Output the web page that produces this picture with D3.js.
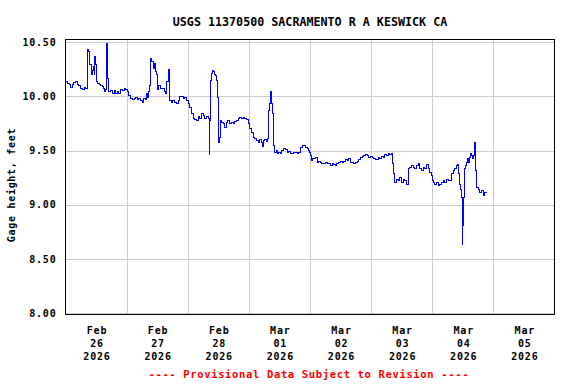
<!DOCTYPE html>
<html><head><meta charset="utf-8">
<script src="https://cdn.jsdelivr.net/npm/d3@7"></script>
<style>
html,body{margin:0;padding:0;background:#fff;}
svg{display:block;}
text{font-family:"DejaVu Sans Mono","Liberation Mono",monospace;font-weight:bold;}
</style></head><body>
<svg id="chart" width="576" height="384"></svg>
<script>
// ---- chart text ----
const title = "USGS 11370500 SACRAMENTO R A KESWICK CA";
const yLabel = "Gage height, feet";
const footer = "---- Provisional Data Subject to Revision ----";

// ---- axes ----
const startDate = "2026-02-26T00:00:00Z";
const endDate = "2026-03-06T00:00:00Z";
const yTicks = [8.00, 8.50, 9.00, 9.50, 10.00, 10.50];
const xTickMonths = ["Feb", "Feb", "Feb", "Mar", "Mar", "Mar", "Mar", "Mar"];
const xTickDays = ["26", "27", "28", "01", "02", "03", "04", "05"];
const xTickYears = ["2026", "2026", "2026", "2026", "2026", "2026", "2026", "2026"];

// ---- series: hours since Feb 26 00:00, gage height (ft) ----
const hours = [
0,0.7,1.4,2.0,2.6,3.3,4.0,4.6,5.3,5.95,6.6,7.3,7.9,8.6,8.8,9.2,9.6,10.2,10.5,10.9,
11.2,11.5,11.85,12.2,12.5,13.2,13.8,14.5,14.9,15.4,15.8,16.0,16.4,16.8,17.5,18.4,19.1,19.7,20.4,21.0,
21.7,22.3,23.0,23.6,24.3,24.9,25.6,26.2,26.9,27.5,28.2,28.8,29.5,30.2,30.8,31.5,31.9,32.2,32.5,33.1,
33.5,33.8,34.4,34.8,35.2,35.8,36.3,36.7,37.4,38.0,38.7,39.3,39.7,40.3,40.65,40.9,41.6,42.2,42.9,43.5,
44.2,44.85,45.5,46.2,46.8,47.5,48.1,48.8,49.4,50.1,50.7,51.4,52.05,52.7,53.4,54.0,54.7,55.3,56.0,56.2,
56.4,56.6,56.9,57.3,57.7,58.2,58.6,59.0,59.25,59.6,59.9,60.2,60.6,61.0,61.2,61.9,62.5,63.2,63.8,64.5,
65.1,65.8,66.5,67.1,67.8,68.4,69.1,69.7,70.4,71.0,71.7,72.3,73.0,73.65,74.3,75.0,75.6,76.3,76.9,77.3,
77.6,78.2,78.9,79.5,79.9,80.2,80.5,80.9,81.3,81.5,81.8,82.2,82.7,83.1,83.7,84.4,85.0,85.7,86.4,87.0,
87.7,88.3,89.0,89.6,90.3,90.9,91.6,92.25,92.9,93.5,94.2,94.9,95.3,95.8,96.2,96.6,96.8,97.5,98.1,98.8,
99.4,100.1,100.7,101.4,102.1,102.7,103.4,104.0,104.7,105.3,106.0,106.6,107.3,107.9,108.6,109.3,109.9,110.6,111.2,111.9,
112.5,113.2,113.8,114.5,115.2,115.8,116.5,117.1,117.8,118.4,119.1,119.7,120.4,121.05,121.7,122.75,123.4,124.1,124.7,125.4,
126.0,126.7,127.3,128.0,128.4,128.9,129.3,129.9,130.6,131.3,131.9,132.6,133.2,133.9,134.5,134.8,135.2,135.8,136.5,137.2,
137.8,138.5,139.1,139.8,140.4,141.1,141.8,142.4,143.1,143.7,144.1,144.6,145.0,145.7,146.3,147.0,147.6,148.3,148.9,149.6,
150.3,150.9,151.6,152.2,152.9,153.5,153.9,154.2,154.6,154.8,155.2,155.5,155.8,156.0,156.3,156.6,156.8,157.2,157.5,157.8,
158.1,158.5,158.9,159.4,159.8,160.2,160.6,160.9,161.1,161.4,162.0,162.7,163.4,164.0,164.7,165.3
];
const gage = [
10.136,10.12,10.105,10.08,10.11,10.13,10.136,10.105,10.10,10.074,10.06,10.083,10.074,10.09,10.43,10.41,10.29,10.20,10.24,10.275,
10.20,10.37,10.29,10.136,10.12,10.105,10.10,10.09,10.074,10.04,10.06,10.49,10.167,10.04,10.05,10.03,10.05,10.03,10.04,10.03,
10.06,10.05,10.074,10.06,10.04,10.01,9.98,9.966,9.975,9.99,9.966,9.98,9.957,9.944,9.98,9.966,10.03,9.99,10.04,10.10,
10.35,10.32,10.26,10.305,10.23,10.20,10.06,10.10,10.074,10.074,10.04,10.03,10.136,10.25,10.056,9.963,9.947,9.963,9.938,9.932,
9.963,10.00,9.994,9.978,9.988,9.963,9.932,9.90,9.84,9.793,9.784,9.778,9.809,9.793,9.84,9.824,9.793,9.809,9.793,9.793,
9.46,9.78,10.148,10.21,10.234,10.225,10.204,10.194,10.148,9.99,9.778,9.577,9.623,9.778,9.762,9.747,9.716,9.762,9.778,9.747,
9.762,9.753,9.771,9.778,9.793,9.80,9.793,9.80,9.793,9.784,9.747,9.70,9.67,9.623,9.608,9.593,9.577,9.599,9.577,9.537,
9.593,9.599,9.586,9.608,9.87,9.932,10.04,9.932,9.84,9.562,9.546,9.484,9.50,9.469,9.484,9.469,9.50,9.516,9.506,9.484,
9.494,9.469,9.475,9.484,9.484,9.469,9.484,9.531,9.546,9.546,9.531,9.516,9.50,9.484,9.454,9.407,9.423,9.423,9.432,9.392,
9.401,9.392,9.383,9.377,9.392,9.377,9.383,9.361,9.377,9.37,9.361,9.383,9.392,9.401,9.392,9.401,9.414,9.407,9.423,9.392,
9.392,9.377,9.392,9.401,9.414,9.438,9.444,9.454,9.463,9.454,9.438,9.444,9.432,9.423,9.414,9.438,9.423,9.444,9.438,9.463,
9.454,9.469,9.463,9.469,9.377,9.284,9.206,9.237,9.222,9.253,9.206,9.237,9.222,9.19,9.206,9.33,9.345,9.361,9.345,9.33,
9.361,9.377,9.33,9.315,9.345,9.33,9.37,9.33,9.30,9.268,9.222,9.206,9.19,9.206,9.176,9.19,9.206,9.222,9.206,9.237,
9.222,9.222,9.284,9.315,9.33,9.361,9.37,9.284,9.222,9.19,9.145,9.068,8.636,8.806,9.068,9.315,9.33,9.361,9.392,9.423,
9.392,9.438,9.469,9.454,9.423,9.454,9.577,9.423,9.315,9.16,9.145,9.114,9.13,9.083,9.114,9.12
];

// ---- layout ----
const plotLeft = 65.5, plotRight = 554.5, plotTop = 39.5, plotBottom = 314.5;

const svg = d3.select("#chart");
const t0 = new Date(startDate), t1 = new Date(endDate);
const x = d3.scaleUtc().domain([t0, t1]).range([plotLeft, plotRight]);
const y = d3.scaleLinear().domain([8, 10.5]).range([313.3, 42]);

const data = hours.map((h, i) => ({t: new Date(t0.getTime() + h * 3600e3), v: gage[i]}));

// y axis with gridlines
const yAxis = svg.append("g")
  .attr("transform", `translate(${plotLeft},0)`)
  .call(d3.axisLeft(y).tickValues(yTicks).tickFormat(d3.format(".2f"))
    .tickSize(-(plotRight - plotLeft)).tickPadding(9));
yAxis.select(".domain").remove();
yAxis.selectAll(".tick line").attr("stroke", "#cccccc").attr("stroke-width", 1)
  .attr("shape-rendering", "crispEdges");
yAxis.selectAll(".tick text").attr("font-size", "10px").attr("letter-spacing", "0.8px")
  .attr("fill", "#000").attr("font-family", "DejaVu Sans Mono, monospace").attr("font-weight", "bold");

// x gridlines at midnight
const dayStarts = d3.utcDay.range(t0, t1).slice(1);
const xGrid = svg.append("g")
  .attr("transform", `translate(0,${plotBottom})`)
  .call(d3.axisBottom(x).tickValues(dayStarts).tickFormat("").tickSize(-(plotBottom - plotTop)));
xGrid.select(".domain").remove();
xGrid.selectAll(".tick line").attr("stroke", "#cccccc").attr("shape-rendering", "crispEdges");

// x labels at noon
const noons = d3.utcDay.range(t0, t1).map(d => d3.utcHour.offset(d, 12));
const xLab = svg.append("g")
  .attr("transform", `translate(0,${plotBottom})`)
  .call(d3.axisBottom(x).tickValues(noons).tickSize(0).tickFormat(""));
xLab.select(".domain").remove();
xLab.selectAll(".tick").each(function(d, i) {
  const g = d3.select(this);
  g.select("text").remove();
  const lines = [xTickMonths[i], xTickDays[i], xTickYears[i]];
  lines.forEach((s, j) => {
    g.append("text").attr("y", 19 + j * 13.3).attr("x", 0.4)
      .attr("text-anchor", "middle").attr("font-size", "10px").attr("letter-spacing", "0.8px")
      .attr("fill", "#000").text(s);
  });
});

// data line
const line = d3.line().x(d => x(d.t)).y(d => y(d.v)).curve(d3.curveStepAfter);
svg.append("path").datum(data)
  .attr("d", line).attr("fill", "none").attr("stroke", "#0000ff").attr("stroke-width", 1)
  .attr("shape-rendering", "crispEdges");

// frame
svg.append("rect").attr("x", plotLeft).attr("y", plotTop).attr("width", plotRight - plotLeft).attr("height", plotBottom - plotTop)
  .attr("fill", "none").attr("stroke", "#000").attr("stroke-width", 1).attr("shape-rendering", "crispEdges");

// title
svg.append("text").attr("x", 310).attr("y", 25.5).attr("text-anchor", "middle")
  .attr("font-size", "11.7px").attr("fill", "#000").text(title);

// y label
svg.append("text").attr("transform", "translate(14.5,185) rotate(-90)").attr("text-anchor", "middle")
  .attr("font-size", "10px").attr("letter-spacing", "0.7px").attr("fill", "#000").text(yLabel);

// footer
svg.append("text").attr("x", 308.8).attr("y", 377.5).attr("text-anchor", "middle")
  .attr("font-size", "10.5px").attr("letter-spacing", "0.65px").attr("fill", "#ff0000").text(footer);
</script>
</body></html>
